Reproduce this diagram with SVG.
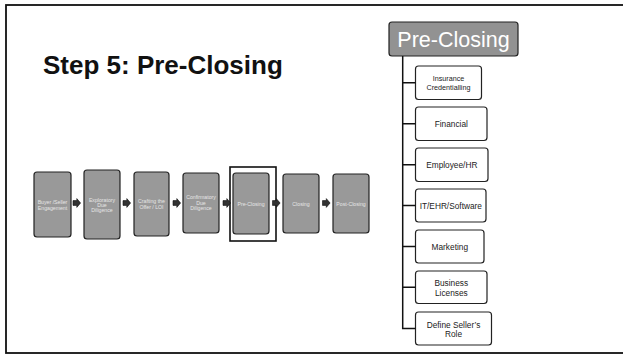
<svg xmlns="http://www.w3.org/2000/svg" width="623" height="355" viewBox="0 0 623 355">
  <style>
    .frame { fill: none; stroke: #111; stroke-width: 1.8; }
    .step { fill: #999; stroke: #222; stroke-width: 1.2; }
    .step-t { font-family: "Liberation Sans", Arial, sans-serif; font-size: 5.2px; fill: #e6e6e6; text-anchor: middle; }
    .sel { fill: none; stroke: #111; stroke-width: 1.6; }
    .head { fill: #929292; stroke: #222; stroke-width: 1.2; }
    .head-t { font-family: "Liberation Sans", Arial, sans-serif; font-size: 21.5px; fill: #fff; text-anchor: middle; }
    .item { fill: #fff; stroke: #222; stroke-width: 1.2; }
    .item-t { font-family: "Liberation Sans", Arial, sans-serif; font-size: 8.3px; fill: #222; text-anchor: middle; }
    .title { font-family: "Liberation Sans", Arial, sans-serif; font-size: 26px; font-weight: bold; fill: #111; }
    .tree { fill: none; stroke: #111; stroke-width: 1.5; }
    .blk { fill: #333; stroke: #111; stroke-width: 0.6; }
  </style>
  <defs>
    <!-- small block arrow used between the process steps -->
    <path id="blk" class="blk" d="M0,-2.4 H3.8 V-4.4 L7.6,0 L3.8,4.4 V2.4 H0 Z"/>
  </defs>

  <rect class="frame" x="6" y="5" width="622" height="348"/>

  <text class="title" x="43" y="74">Step 5: Pre-Closing</text>

  <!-- process steps -->
  <g id="step-buyer-seller">
    <rect class="step" x="34" y="172" width="37" height="65" rx="3"/>
    <text class="step-t" x="52.5" y="204">Buyer /Seller</text>
    <text class="step-t" x="52.5" y="210">Engagement</text>
  </g>
  <g id="step-exploratory">
    <rect class="step" x="84" y="170" width="36" height="69" rx="3"/>
    <text class="step-t" x="102" y="201.5">Exploratory</text>
    <text class="step-t" x="102" y="206.5">Due</text>
    <text class="step-t" x="102" y="211.5">Diligence</text>
  </g>
  <g id="step-offer">
    <rect class="step" x="134" y="172" width="35" height="64" rx="3"/>
    <text class="step-t" x="151.5" y="203">Crafting the</text>
    <text class="step-t" x="151.5" y="209">Offer / LOI</text>
  </g>
  <g id="step-confirmatory">
    <rect class="step" x="183" y="173" width="36" height="60" rx="3"/>
    <text class="step-t" x="201" y="199">Confirmatory</text>
    <text class="step-t" x="201" y="204.5">Due</text>
    <text class="step-t" x="201" y="210">Diligence</text>
  </g>
  <g id="step-preclosing">
    <rect class="sel" x="230" y="167" width="46" height="74"/>
    <rect class="step" x="233" y="173" width="36" height="61" rx="3"/>
    <text class="step-t" x="251" y="206">Pre-Closing</text>
  </g>
  <g id="step-closing">
    <rect class="step" x="283" y="174" width="36" height="59" rx="3"/>
    <text class="step-t" x="301" y="206">Closing</text>
  </g>
  <g id="step-postclosing">
    <rect class="step" x="333" y="174" width="36" height="59" rx="3"/>
    <text class="step-t" x="351" y="206">Post-Closing</text>
  </g>

  <!-- pre-closing breakdown -->
  <g id="preclosing-head">
    <rect class="head" x="389" y="22" width="129" height="34" rx="3"/>
    <text class="head-t" x="453.5" y="46.5">Pre-Closing</text>
  </g>
  <g id="item-insurance">
    <rect class="item" x="415.5" y="66" width="66" height="33.5" rx="3"/>
    <text class="item-t" x="448.5" y="81" style="font-size:7.2px">Insurance</text>
    <text class="item-t" x="448.5" y="89.5" style="font-size:7.2px">Credentialling</text>
  </g>
  <g id="item-financial">
    <rect class="item" x="415.5" y="107" width="71.5" height="33.5" rx="3"/>
    <text class="item-t" x="451.3" y="126.5">Financial</text>
  </g>
  <g id="item-employee">
    <rect class="item" x="415.5" y="148" width="72.5" height="33.5" rx="3"/>
    <text class="item-t" x="451.8" y="167.5">Employee/HR</text>
  </g>
  <g id="item-it">
    <rect class="item" x="415.5" y="189" width="70.5" height="33" rx="3"/>
    <text class="item-t" x="450.8" y="208.5">IT/EHR/Software</text>
  </g>
  <g id="item-marketing">
    <rect class="item" x="415.5" y="230" width="68.5" height="33" rx="3"/>
    <text class="item-t" x="449.8" y="249.5">Marketing</text>
  </g>
  <g id="item-licenses">
    <rect class="item" x="415.5" y="271" width="71.5" height="32.5" rx="3"/>
    <text class="item-t" x="451.3" y="286">Business</text>
    <text class="item-t" x="451.3" y="295.5">Licenses</text>
  </g>
  <g id="item-seller-role">
    <rect class="item" x="415.5" y="312" width="76" height="33" rx="3"/>
    <text class="item-t" x="453.5" y="328">Define Seller’s</text>
    <text class="item-t" x="453.5" y="337">Role</text>
  </g>

  <!-- connectors -->
  <g id="connectors">
    <use href="#blk" x="73" y="203"/>
    <use href="#blk" x="123" y="203"/>
    <use href="#blk" x="173" y="203"/>
    <use href="#blk" x="223" y="203"/>
    <use href="#blk" x="272.5" y="203"/>
    <use href="#blk" x="322.5" y="203"/>
    <path class="tree" d="M402.7,56 V328.5 H415.5 M402.7,82.7 H415.5 M402.7,123.7 H415.5 M402.7,164.7 H415.5 M402.7,205.5 H415.5 M402.7,246.5 H415.5 M402.7,287.3 H415.5"/>
  </g>
</svg>
